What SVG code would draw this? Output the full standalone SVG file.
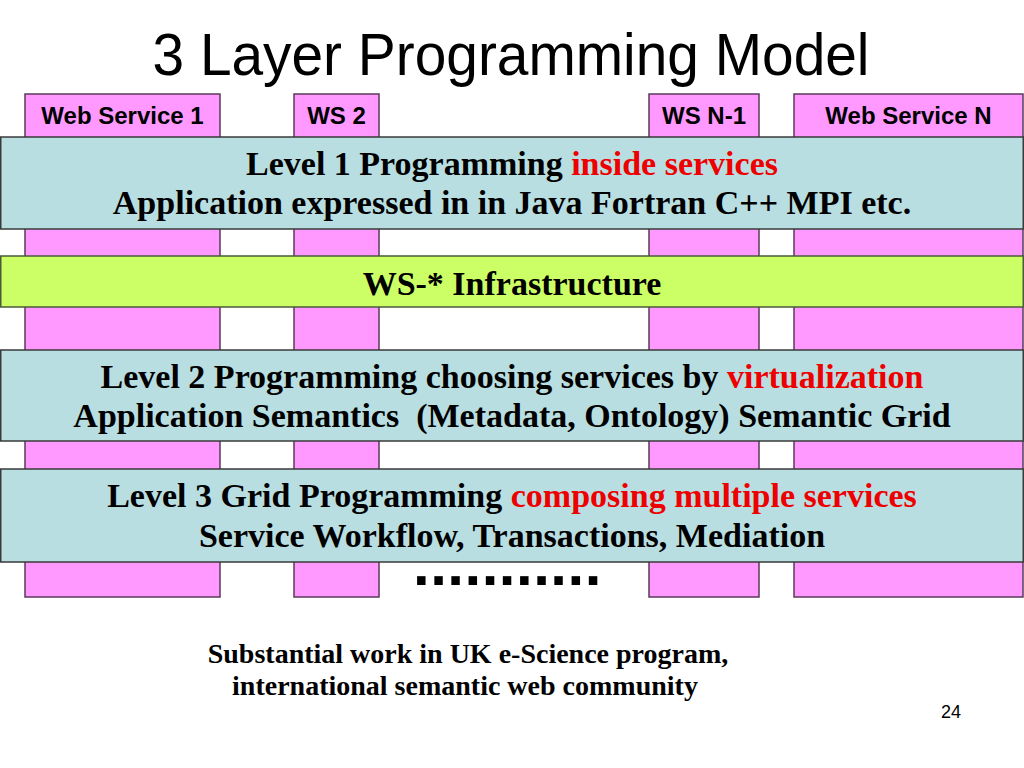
<svg xmlns="http://www.w3.org/2000/svg" width="1024" height="768" viewBox="0 0 1024 768">
<style>
.col{fill:#FF99FF;stroke:#5a3a5a;stroke-width:1.5}
.band{fill:#B8DEE2;stroke:#3a3a3a;stroke-width:1.5}
.lime{fill:#CCFF66;stroke:#4a5a3a;stroke-width:1.5}
.hdr{font-family:"Liberation Sans",Arial,sans-serif;font-weight:bold;font-size:24px;fill:#000;text-anchor:middle}
.lv{font-family:"Liberation Serif","Times New Roman",serif;font-weight:bold;font-size:34px;fill:#000;text-anchor:middle}
.red{fill:#EE0000}
.note{font-family:"Liberation Serif","Times New Roman",serif;font-weight:bold;font-size:28px;fill:#000;text-anchor:middle}
</style>
<rect width="1024" height="768" fill="#FFFFFF"/>
<text x="511" y="75" font-family="'Liberation Sans',Arial,sans-serif" font-size="60" textLength="717" lengthAdjust="spacingAndGlyphs" text-anchor="middle" fill="#000">3 Layer Programming Model</text>
<g id="ws1"><rect class="col" x="25" y="94" width="195" height="503"/><text class="hdr" x="122.5" y="124">Web Service 1</text></g>
<g id="ws2"><rect class="col" x="294" y="94" width="85" height="503"/><text class="hdr" x="336.5" y="124">WS 2</text></g>
<g id="wsn1"><rect class="col" x="649" y="94" width="110" height="503"/><text class="hdr" x="704" y="124">WS N-1</text></g>
<g id="wsn"><rect class="col" x="794" y="94" width="229" height="503"/><text class="hdr" x="908.5" y="124">Web Service N</text></g>
<g id="level1"><rect class="band" x="0.75" y="137" width="1022.5" height="92"/>
<text class="lv" x="512" y="175">Level 1 Programming <tspan class="red">inside services</tspan></text>
<text class="lv" x="512" y="214">Application expressed in in Java Fortran C++ MPI etc.</text></g>
<g id="infra"><rect class="lime" x="0.75" y="256" width="1022.5" height="51"/>
<text class="lv" x="512" y="295">WS-* Infrastructure</text></g>
<g id="level2"><rect class="band" x="0.75" y="350" width="1022.5" height="91"/>
<text class="lv" x="512" y="388">Level 2 Programming choosing services by <tspan class="red">virtualization</tspan></text>
<text class="lv" x="512" y="427" xml:space="preserve">Application Semantics  (Metadata, Ontology) Semantic Grid</text></g>
<g id="level3"><rect class="band" x="0.75" y="469" width="1022.5" height="93"/>
<text class="lv" x="512" y="507">Level 3 Grid Programming <tspan class="red">composing multiple services</tspan></text>
<text class="lv" x="512" y="547">Service Workflow, Transactions, Mediation</text></g>
<g id="connectors"></g>
<text x="413" y="585" font-family="'Liberation Sans',Arial,sans-serif" font-weight="bold" font-size="60" letter-spacing="0.5" fill="#000">...........</text>
<g id="note"><text class="note" x="468" y="663">Substantial work in UK e-Science program,</text>
<text class="note" x="465" y="695">international semantic web community</text></g>
<text x="951" y="718" font-family="'Liberation Sans',Arial,sans-serif" font-size="18" text-anchor="middle" fill="#000">24</text>
</svg>
